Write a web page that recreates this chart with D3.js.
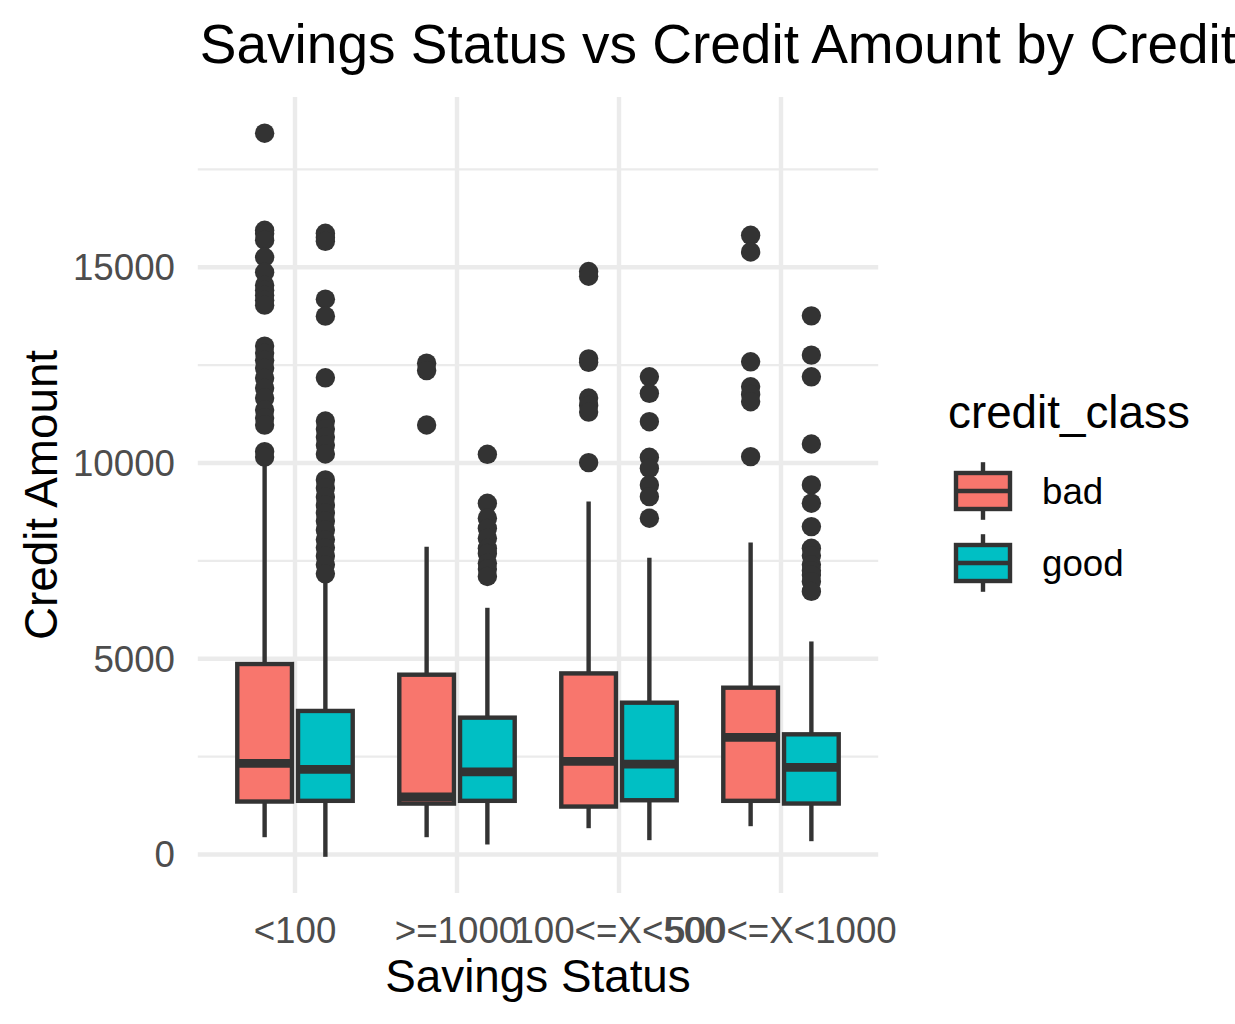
<!DOCTYPE html>
<html>
<head>
<meta charset="utf-8">
<script src="https://cdn.jsdelivr.net/npm/d3@7"></script>
<style>
  html, body { margin: 0; padding: 0; background: #ffffff; }
  svg { display: block; font-family: "Liberation Sans", Arial, Helvetica, sans-serif; }
</style>
</head>
<body>
<svg id="chart" width="1235" height="1024"></svg>
<script>
// ---------- data ----------
const categories = ["<100", ">=1000", "100<=X<500", "500<=X<1000"];
const seriesNames = ["bad", "good"];
const seriesColors = ["#F8766D", "#00BFC4"];

// per-category box statistics (lower whisker, q1, median, q3, upper whisker)
const badLow    = [441, 441, 671, 722];
const badQ1     = [1352, 1300, 1224, 1370];
const badMedian = [2329, 1472, 2380, 2992];
const badQ3     = [4865, 4592, 4625, 4260];
const badHigh   = [9960, 7857, 9013, 7967];
const badOutliers = [
  [18424, 15944, 15857, 15689, 15255, 14872, 14541, 14413, 14286, 14158, 14031,
   12985, 12806, 12627, 12423, 12168, 11913, 11658, 11352, 11148, 10969, 10290, 10150],
  [12550, 12360, 10970],
  [14890, 14770, 12660, 12570, 11660, 11470, 11300, 10008],
  [15816, 15390, 12584, 11946, 11750, 11564, 10161]
];

const goodLow    = [-60, 255, 365, 339];
const goodQ1     = [1370, 1370, 1385, 1301];
const goodMedian = [2173, 2112, 2309, 2227];
const goodQ3     = [3666, 3495, 3877, 3069];
const goodHigh   = [7100, 6301, 7576, 5441];
const goodOutliers = [
  [15867, 15760, 15663, 14184, 13751, 12176, 11071, 10867, 10663, 10459, 10229,
   9566, 9362, 9133, 8928, 8724, 8520, 8291, 8036, 7832, 7627, 7398, 7168],
  [10222, 8970, 8590, 8330, 8080, 7820, 7690, 7440, 7290, 7100],
  [12202, 11778, 11054, 10145, 9864, 9439, 9140, 8589],
  [13758, 12755, 12202, 10485, 9439, 8972, 8375, 7820, 7630, 7400, 7250, 7140, 6970, 6720]
];

const yMajorTicks = [0, 5000, 10000, 15000];
const yMinorTicks = [2500, 7500, 12500, 17500];

const titleText = "Savings Status vs Credit Amount by Credit Class";
const xTitle = "Savings Status";
const yTitle = "Credit Amount";
const legendTitle = "credit_class";

// ---------- build ----------
const series = [
  {name: seriesNames[0], color: seriesColors[0], low: badLow, q1: badQ1, med: badMedian, q3: badQ3, high: badHigh, out: badOutliers},
  {name: seriesNames[1], color: seriesColors[1], low: goodLow, q1: goodQ1, med: goodMedian, q3: goodQ3, high: goodHigh, out: goodOutliers}
];
const boxes = [];
series.forEach((s, si) => {
  categories.forEach((c, ci) => {
    boxes.push({cat: c, si, color: s.color, low: s.low[ci], q1: s.q1[ci], med: s.med[ci], q3: s.q3[ci], high: s.high[ci], out: s.out[ci]});
  });
});

const panel = {left: 197.8, right: 878.2, top: 97, bottom: 893};
const svg = d3.select("#chart");
const ink = "#333333";
const grid = "#EBEBEB";

const x = d3.scaleBand().domain(categories).range([panel.left, panel.right]).paddingInner(0).paddingOuter(0.1);
const step = x.step();
const xc = c => x(c) + x.bandwidth() / 2;
const dodge = d3.scaleBand().domain([0, 1]).range([-0.375 * step, 0.375 * step]);
const slotW = dodge.bandwidth();
const boxW = slotW * 0.9;

let allVals = [];
boxes.forEach(b => { allVals.push(b.low, b.high, ...b.out); });
const yMin = d3.min(allVals), yMax = d3.max(allVals);
const pad = (yMax - yMin) * 0.05;
const y = d3.scaleLinear().domain([yMin - pad, yMax + pad]).range([panel.bottom, panel.top]);

// grid
const g = svg.append("g");
g.selectAll("line.ymin").data(yMinorTicks).enter().append("line")
  .attr("x1", panel.left).attr("x2", panel.right)
  .attr("y1", d => y(d)).attr("y2", d => y(d))
  .attr("stroke", grid).attr("stroke-width", 2.2);
g.selectAll("line.ymaj").data(yMajorTicks).enter().append("line")
  .attr("x1", panel.left).attr("x2", panel.right)
  .attr("y1", d => y(d)).attr("y2", d => y(d))
  .attr("stroke", grid).attr("stroke-width", 4.4);
g.selectAll("line.xmaj").data(categories).enter().append("line")
  .attr("x1", d => xc(d)).attr("x2", d => xc(d))
  .attr("y1", panel.top).attr("y2", panel.bottom)
  .attr("stroke", grid).attr("stroke-width", 4.4);

// boxes
const bg = svg.append("g");
boxes.forEach(b => {
  const cx = xc(b.cat) + dodge(b.si) + slotW / 2;
  bg.append("line").attr("x1", cx).attr("x2", cx).attr("y1", y(b.q3)).attr("y2", y(b.high))
    .attr("stroke", ink).attr("stroke-width", 4.4);
  bg.append("line").attr("x1", cx).attr("x2", cx).attr("y1", y(b.q1)).attr("y2", y(b.low))
    .attr("stroke", ink).attr("stroke-width", 4.4);
  bg.append("rect").attr("x", cx - boxW / 2).attr("width", boxW)
    .attr("y", y(b.q3)).attr("height", y(b.q1) - y(b.q3))
    .attr("fill", b.color).attr("stroke", ink).attr("stroke-width", 4.4);
  bg.append("line").attr("x1", cx - boxW / 2).attr("x2", cx + boxW / 2)
    .attr("y1", y(b.med)).attr("y2", y(b.med))
    .attr("stroke", ink).attr("stroke-width", 8.8);
  bg.selectAll(null).data(b.out).enter().append("circle")
    .attr("cx", cx).attr("cy", d => y(d)).attr("r", 9.7).attr("fill", ink);
});

// axes text
const tickColor = "#4D4D4D";
svg.append("g").selectAll("text").data(yMajorTicks).enter().append("text")
  .attr("x", 175).attr("y", d => y(d) + 13)
  .attr("text-anchor", "end").attr("font-size", 36.7).attr("fill", tickColor)
  .text(d => d);
svg.append("g").selectAll("text").data(categories).enter().append("text")
  .attr("x", d => xc(d)).attr("y", 943)
  .attr("text-anchor", "middle").attr("font-size", 36.7).attr("fill", tickColor)
  .text(d => d);

svg.append("text").attr("x", (panel.left + panel.right) / 2).attr("y", 992)
  .attr("text-anchor", "middle").attr("font-size", 45.8).attr("fill", "#000").text(xTitle);
svg.append("text").attr("transform", `translate(57,${(panel.top + panel.bottom) / 2}) rotate(-90)`)
  .attr("text-anchor", "middle").attr("font-size", 45.8).attr("fill", "#000").text(yTitle);

svg.append("text").attr("x", panel.left + 2).attr("y", 63)
  .attr("font-size", 55).attr("fill", "#000").text(titleText);

// legend
const lg = svg.append("g");
lg.append("text").attr("x", 948).attr("y", 428).attr("font-size", 45.8).attr("fill", "#000").text(legendTitle);
const keyY = d3.scaleBand().domain(seriesNames).range([455, 599]);
const keyX = 947, keyS = 72;
series.forEach(s => {
  const ky = keyY(s.name);
  const cx = keyX + keyS / 2;
  lg.append("line").attr("x1", cx).attr("x2", cx).attr("y1", ky + 0.1 * keyS).attr("y2", ky + 0.9 * keyS)
    .attr("stroke", ink).attr("stroke-width", 4.4);
  lg.append("rect").attr("x", keyX + 0.125 * keyS).attr("width", 0.75 * keyS)
    .attr("y", ky + 0.25 * keyS).attr("height", 0.5 * keyS)
    .attr("fill", s.color).attr("stroke", ink).attr("stroke-width", 4.4);
  lg.append("line").attr("x1", keyX + 0.125 * keyS).attr("x2", keyX + 0.875 * keyS)
    .attr("y1", ky + 0.5 * keyS).attr("y2", ky + 0.5 * keyS)
    .attr("stroke", ink).attr("stroke-width", 4.4);
  lg.append("text").attr("x", 1042).attr("y", ky + keyS / 2 + 13)
    .attr("font-size", 36.7).attr("fill", "#000").text(s.name);
});
</script>
</body>
</html>
